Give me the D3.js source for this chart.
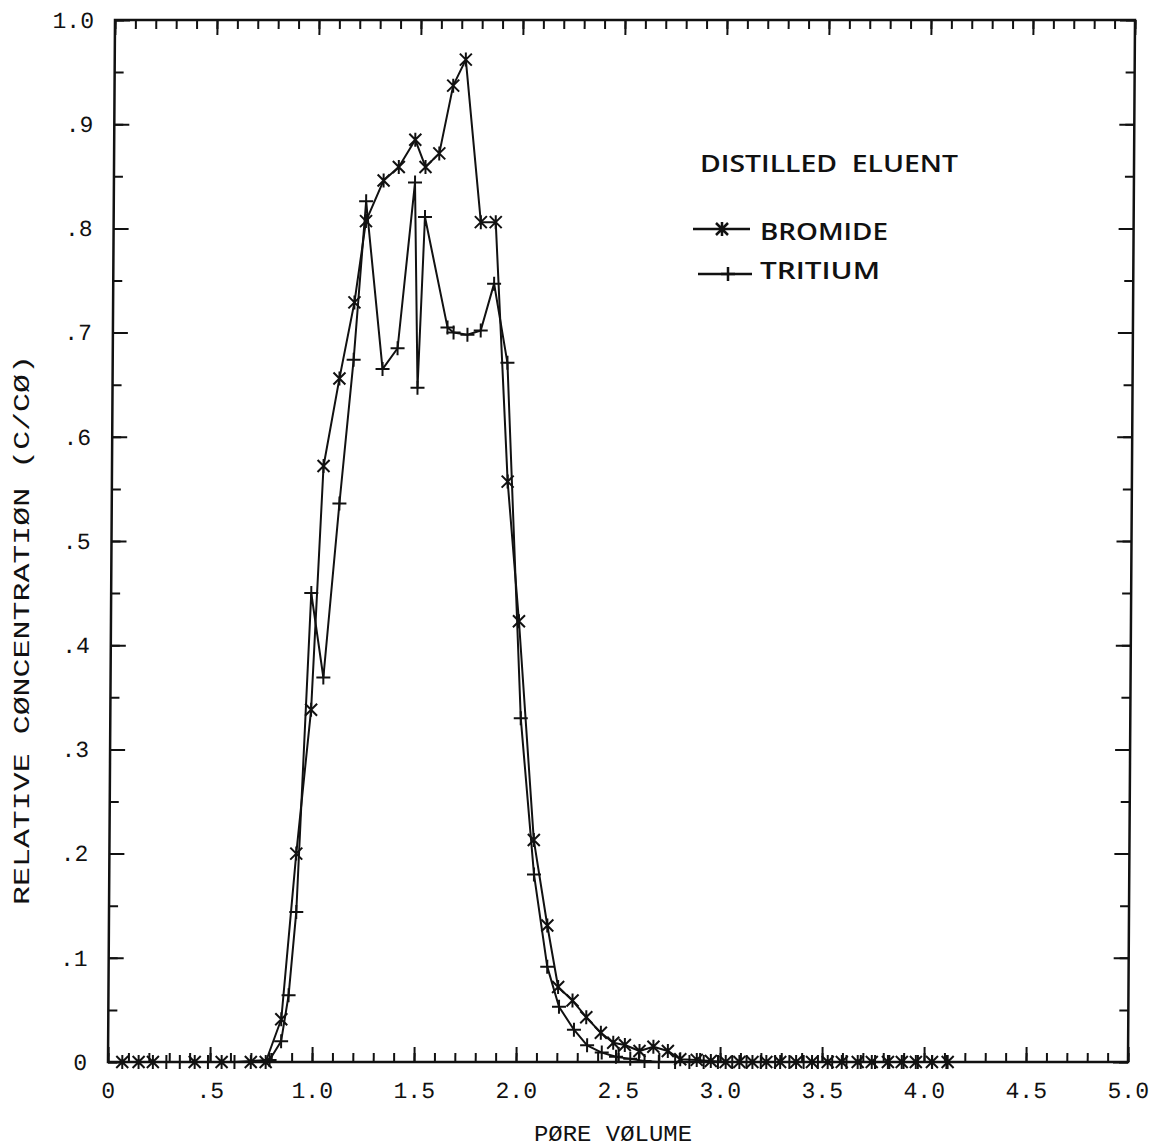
<!DOCTYPE html>
<meta charset="utf-8">
<head>
  <title>Pore volume breakthrough</title>
  <style>
    body {
      margin: 0;
      background: #fff;
    }
    .axis text, .axis-title {
      font-family: "Liberation Mono", "DejaVu Sans Mono", monospace;
      fill: #111;
    }
    .legend text {
      font-family: "Open Sans", "DejaVu Sans", sans-serif;
      font-weight: 600;
      fill: #111;
    }
  </style>
  <script src="https://d3js.org/d3.v7.min.js"></script>
</head>
<body>
  <svg id="chart" width="1154" height="1147"></svg>

  <script>
// values (pore volume, C/C0)
var bromideX = [0.07, 0.15, 0.22, 0.425, 0.557, 0.70, 0.773, 0.848, 0.916, 0.984,
  1.037, 1.112, 1.183, 1.237, 1.322, 1.396, 1.476, 1.527, 1.594, 1.66,
  1.721, 1.80, 1.873, 1.94, 2.00, 2.08, 2.149, 2.204, 2.275, 2.343,
  2.415, 2.476, 2.533, 2.605, 2.673, 2.744, 2.805, 2.886, 2.955, 3.028,
  3.095, 3.159, 3.227, 3.295, 3.373, 3.451, 3.528, 3.597, 3.675, 3.744,
  3.823, 3.891, 3.96, 4.039, 4.116];
var bromideY = [0, 0, 0, 0, 0, 0, 0, 0.041, 0.20, 0.338,
  0.572, 0.656, 0.729, 0.807, 0.846, 0.859, 0.885, 0.859, 0.872, 0.937,
  0.962, 0.806, 0.806, 0.557, 0.423, 0.213, 0.131, 0.072, 0.059, 0.043,
  0.028, 0.0185, 0.0163, 0.0106, 0.0147, 0.0106, 0.0026, 0.002, 0.001, 0,
  0, 0, 0, 0, 0, 0, 0, 0, 0, 0,
  0, 0, 0, 0, 0];

var tritiumX = [0.286, 0.352, 0.49, 0.62, 0.792, 0.848, 0.883, 0.918, 0.981, 1.043,
  1.116, 1.181, 1.237, 1.323, 1.396, 1.476, 1.495, 1.526, 1.64, 1.67,
  1.738, 1.803, 1.867, 1.935, 2.012, 2.082, 2.15, 2.209, 2.283, 2.348,
  2.42, 2.49, 2.56, 2.63, 2.70, 2.78, 2.85, 2.92, 2.99, 3.06,
  3.13, 3.20, 3.27, 3.34, 3.41, 3.48, 3.55, 3.62, 3.69, 3.76,
  3.83, 3.90, 3.97, 4.04, 4.11];
var tritiumY = [0, 0, 0, 0, 0.002, 0.02, 0.064, 0.144, 0.45, 0.369,
  0.536, 0.674, 0.826, 0.665, 0.685, 0.844, 0.647, 0.811, 0.705, 0.700,
  0.698, 0.702, 0.747, 0.671, 0.33, 0.18, 0.0915, 0.053, 0.031, 0.016,
  0.009, 0.005, 0.003, 0.001, 0, 0, 0, 0, 0, 0,
  0, 0, 0, 0, 0, 0, 0, 0, 0, 0,
  0, 0, 0, 0, 0];

var xTickValues = [0, 0.5, 1.0, 1.5, 2.0, 2.5, 3.0, 3.5, 4.0, 4.5, 5.0];
var xTickLabels = ["0", ".5", "1.0", "1.5", "2.0", "2.5", "3.0", "3.5", "4.0", "4.5", "5.0"];
var yTickValues = [0, 0.1, 0.2, 0.3, 0.4, 0.5, 0.6, 0.7, 0.8, 0.9, 1.0];
var yTickLabels = ["0", ".1", ".2", ".3", ".4", ".5", ".6", ".7", ".8", ".9", "1.0"];

var xTitle = "PØRE VØLUME";
var yTitle = "RELATIVE CØNCENTRATIØN (C/CØ)";
var legendTitle = "DISTILLED  ELUENT";
var seriesNames = ["BROMIDE", "TRITIUM"];

var plotLeft = 108, plotRight = 1128, plotTop = 20, plotBottom = 1062;

var x = d3.scaleLinear().domain([0, 5]).range([plotLeft, plotRight]);
var y = d3.scaleLinear().domain([0, 1]).range([plotBottom, plotTop]);

var svg = d3.select('#chart');

// the scanned frame leans a little to the right at the top
var plot = svg.append('g')
  .attr('transform', 'translate(0,' + plotBottom + ') skewX(-0.385) translate(0,' + (-plotBottom) + ')');

function styleAxis(g) {
  g.select('.domain').remove();
  g.selectAll('.tick line').attr('stroke', '#111').attr('stroke-width', 2);
}

var minorX = d3.range(0, 51).map(function(i) { return i / 10; });
var minorY = d3.range(0, 21).map(function(i) { return i / 20; });

// bottom axis: minor ticks every .1, major every .5 with labels
plot.append('g').attr('class', 'axis')
  .attr('transform', 'translate(0,' + plotBottom + ')')
  .call(d3.axisBottom(x).tickValues(minorX).tickSize(-9).tickFormat(''))
  .call(styleAxis);
plot.append('g').attr('class', 'axis')
  .attr('transform', 'translate(0,' + plotBottom + ')')
  .call(d3.axisBottom(x).tickValues(xTickValues).tickSize(-15).tickPadding(20)
    .tickFormat(function(d, i) { return xTickLabels[i]; }))
  .call(styleAxis)
  .selectAll('text').attr('font-size', 23);

// top axis
plot.append('g').attr('class', 'axis')
  .attr('transform', 'translate(0,' + plotTop + ')')
  .call(d3.axisTop(x).tickValues(minorX).tickSize(-9).tickFormat(''))
  .call(styleAxis);
plot.append('g').attr('class', 'axis')
  .attr('transform', 'translate(0,' + plotTop + ')')
  .call(d3.axisTop(x).tickValues(xTickValues).tickSize(-15).tickFormat(''))
  .call(styleAxis);

// left axis
plot.append('g').attr('class', 'axis')
  .attr('transform', 'translate(' + plotLeft + ',0)')
  .call(d3.axisLeft(y).tickValues(minorY).tickSize(-9).tickFormat(''))
  .call(styleAxis);
plot.append('g').attr('class', 'axis')
  .attr('transform', 'translate(' + plotLeft + ',0)')
  .call(d3.axisLeft(y).tickValues(yTickValues).tickSize(-15).tickPadding(21)
    .tickFormat(function(d, i) { return yTickLabels[i]; }))
  .call(styleAxis)
  .selectAll('text').attr('font-size', 23);

// right axis
plot.append('g').attr('class', 'axis')
  .attr('transform', 'translate(' + plotRight + ',0)')
  .call(d3.axisRight(y).tickValues(minorY).tickSize(-9).tickFormat(''))
  .call(styleAxis);
plot.append('g').attr('class', 'axis')
  .attr('transform', 'translate(' + plotRight + ',0)')
  .call(d3.axisRight(y).tickValues(yTickValues).tickSize(-15).tickFormat(''))
  .call(styleAxis);

// frame
plot.append('rect')
  .attr('x', plotLeft).attr('y', plotTop)
  .attr('width', plotRight - plotLeft).attr('height', plotBottom - plotTop)
  .attr('fill', 'none').attr('stroke', '#111').attr('stroke-width', 2.5);

var bromide = bromideX.map(function(d, i) { return {x: d, y: bromideY[i]}; });
var tritium = tritiumX.map(function(d, i) { return {x: d, y: tritiumY[i]}; });

var line = d3.line()
  .x(function(d) { return x(d.x); })
  .y(function(d) { return y(d.y); });

var starPath = 'M0,-7V7M-6,-6L6,6M-6,6L6,-6';
var plusPath = 'M-7,0H7M0,-7V7';

function drawSeries(data, symbol) {
  plot.append('path')
    .datum(data)
    .attr('d', line)
    .attr('fill', 'none')
    .attr('stroke', '#111')
    .attr('stroke-width', 2)
    .attr('stroke-linejoin', 'round');

  plot.append('g').selectAll('path')
    .data(data)
    .enter()
    .append('path')
    .attr('transform', function(d) { return 'translate(' + x(d.x) + ',' + y(d.y) + ')'; })
    .attr('d', symbol)
    .attr('fill', 'none')
    .attr('stroke', '#111')
    .attr('stroke-width', 2);
}

drawSeries(tritium, plusPath);
drawSeries(bromide, starPath);

// axis titles
svg.append('text').attr('class', 'axis-title')
  .attr('x', 534).attr('y', 1141)
  .attr('font-size', 22)
  .attr('textLength', 158).attr('lengthAdjust', 'spacingAndGlyphs')
  .text(xTitle);

svg.append('text').attr('class', 'axis-title')
  .attr('transform', 'translate(29,630) rotate(-90)')
  .attr('text-anchor', 'middle')
  .attr('font-size', 22)
  .attr('textLength', 550).attr('lengthAdjust', 'spacingAndGlyphs')
  .text(yTitle);

// legend
var legend = svg.append('g').attr('class', 'legend');

legend.append('text')
  .attr('x', 700).attr('y', 172)
  .attr('font-size', 24)
  .attr('textLength', 258).attr('lengthAdjust', 'spacingAndGlyphs')
  .style('white-space', 'pre')
  .text(legendTitle);

var legendRows = [
  {name: seriesNames[0], symbol: starPath, x1: 693, x2: 750, mx: 722, ly: 229, ty: 240, len: 128},
  {name: seriesNames[1], symbol: plusPath, x1: 698, x2: 752, mx: 728, ly: 274, ty: 279, len: 120}
];

legendRows.forEach(function(r) {
  legend.append('line')
    .attr('x1', r.x1).attr('x2', r.x2).attr('y1', r.ly).attr('y2', r.ly)
    .attr('stroke', '#111').attr('stroke-width', 2.5);
  legend.append('path')
    .attr('transform', 'translate(' + r.mx + ',' + r.ly + ')')
    .attr('d', r.symbol)
    .attr('fill', 'none').attr('stroke', '#111').attr('stroke-width', 2.5);
  legend.append('text')
    .attr('x', 760).attr('y', r.ty)
    .attr('font-size', 24)
    .attr('textLength', r.len).attr('lengthAdjust', 'spacingAndGlyphs')
    .text(r.name);
});

  </script>
</body>
</html>
